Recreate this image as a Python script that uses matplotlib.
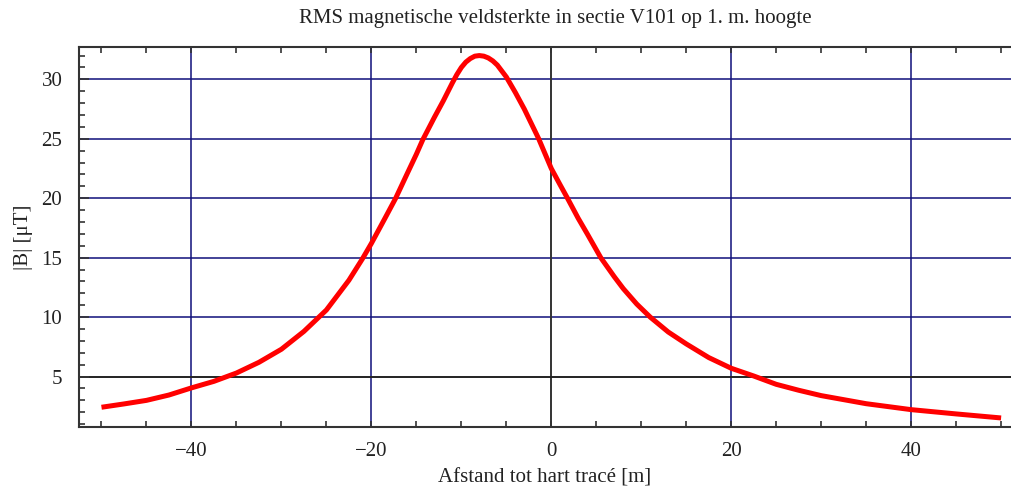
import matplotlib
matplotlib.use("Agg")
import matplotlib.pyplot as plt
from matplotlib.ticker import MultipleLocator, FixedLocator

plt.rcParams["font.family"] = ["Liberation Serif", "DejaVu Serif"]

# Field strength profile across the track
afstand = [-50, -47.5, -45, -42.5, -40, -37.5, -35, -32.5, -30, -27.5, -25, -22.5,
           -21, -20, -18.5, -17.3, -16, -15, -14.3, -13, -12, -11, -10.5, -10, -9.5,
           -9, -8.5, -8, -7.5, -7, -6.5, -6, -5.5, -5, -4, -3, -1.4, 0, 1, 1.8,
           3, 4, 5.5, 7, 8, 9.5, 11, 13, 15, 17.5, 20, 22.5, 25, 27.5, 30, 35,
           40, 45, 50]
veldsterkte = [2.42, 2.7, 3.0, 3.45, 4.05, 4.6, 5.3, 6.2, 7.3, 8.8, 10.6, 13.1,
               14.9, 16.2, 18.3, 20.0, 22.1, 23.7, 24.9, 26.8, 28.2, 29.7, 30.4, 31.0, 31.45,
               31.75, 31.95, 32.0, 31.95, 31.8, 31.55, 31.2, 30.7, 30.2, 28.9, 27.5, 25.0, 22.5, 21.1, 20.0,
               18.3, 17.0, 15.0, 13.4, 12.4, 11.1, 10.0, 8.75, 7.75, 6.6, 5.7, 5.05, 4.35, 3.85, 3.4, 2.72,
               2.22, 1.86, 1.52]

x_major = [-40, -20, 0, 20, 40]
x_labels = ["\u221240", "\u221220", "0", "20", "40"]
y_major = [5, 10, 15, 20, 25, 30]

W, H = 1011, 488
fig = plt.figure(figsize=(W / 100, H / 100), dpi=100)
left_px, right_px, top_px, bottom_px = 79, 1011, 47, 427
ax = fig.add_axes([left_px / W, 1 - bottom_px / H,
                   (right_px - left_px) / W, (bottom_px - top_px) / H])

ax.set_xlim(-52.5, 51.1)
ax.set_ylim(0.76, 32.72)

grid_col = "#10107a"
for gx in x_major:
    if gx != 0:
        ax.axvline(gx, color=grid_col, lw=1.1, zorder=1)
for gy in y_major:
    if gy != 5:
        ax.axhline(gy, color=grid_col, lw=1.1, zorder=1)
ax.axvline(0, color="#333333", lw=1.4, zorder=1.5)
ax.axhline(5, color="#222222", lw=1.4, zorder=1.5)

ax.plot(afstand, veldsterkte, color="#ff0000", lw=3.6, zorder=3,
        solid_capstyle="butt", solid_joinstyle="round")

ax.spines["right"].set_visible(False)
for side in ("left", "bottom", "top"):
    ax.spines[side].set_color("#333333")
    ax.spines[side].set_linewidth(1.5)

ax.xaxis.set_major_locator(FixedLocator(x_major))
ax.set_xticklabels(x_labels)
ax.xaxis.set_minor_locator(MultipleLocator(5))
ax.yaxis.set_major_locator(FixedLocator(y_major))
ax.yaxis.set_minor_locator(MultipleLocator(1))

fs = 15
ax.tick_params(axis="x", which="both", direction="in", top=True, bottom=True,
               color="#333333", labelsize=fs, pad=11)
ax.tick_params(axis="x", which="major", length=4, width=1.2)
ax.tick_params(axis="x", which="minor", length=4, width=1.2)
ax.tick_params(axis="y", which="both", direction="in", left=True, right=False,
               color="#333333", labelsize=fs, pad=12)
ax.tick_params(axis="y", which="major", length=7, width=1.2)
ax.tick_params(axis="y", which="minor", length=4.5, width=1.2)
for lab in ax.get_xticklabels() + ax.get_yticklabels():
    lab.set_color("#222222")

ax.set_xlabel("Afstand tot hart trac\u00e9 [m]", fontsize=fs, color="#222222", labelpad=5)
ax.set_ylabel("|B| [\u03bcT]", fontsize=fs, color="#222222", labelpad=6)
fig.text(555 / W, 1 - 19 / H, "RMS magnetische veldsterkte in sectie V101 op 1. m. hoogte",
         ha="center", va="center", fontsize=fs, color="#222222")

fig.savefig("out.png", dpi=100)
